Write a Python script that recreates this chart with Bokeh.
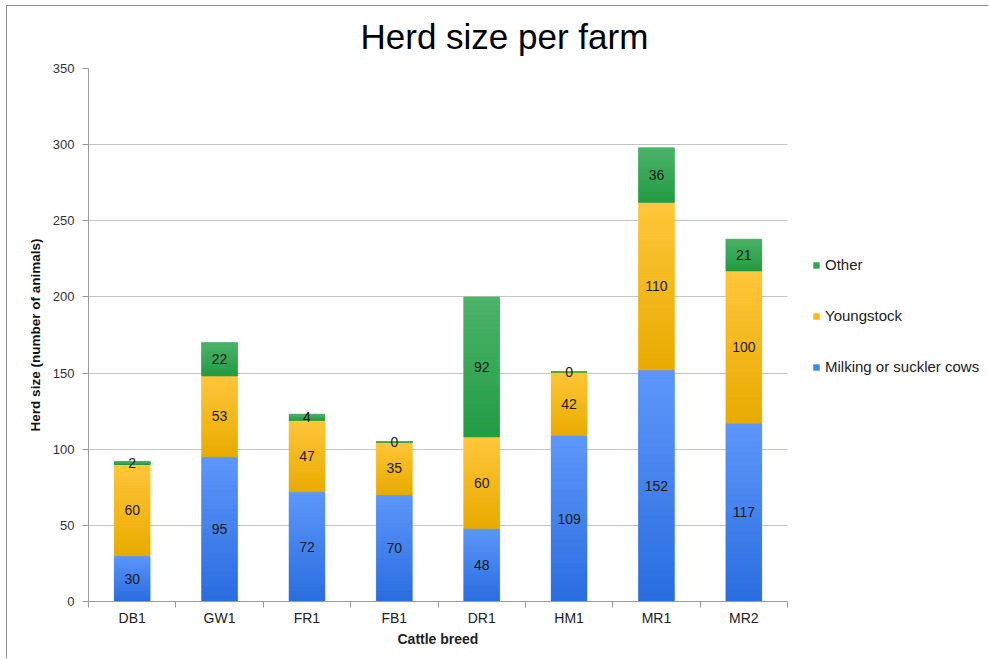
from bokeh.plotting import figure
from bokeh.models import (ColumnDataSource, Range1d, LinearAxis,
                          FixedTicker, Legend, LegendItem, Title)
from bokeh.core.properties import value
from bokeh.embed import file_html
from bokeh.resources import INLINE

farms = ["DB1", "GW1", "FR1", "FB1", "DR1", "HM1", "MR1", "MR2"]
milking = [30, 95, 72, 70, 48, 109, 152, 117]
young = [60, 53, 47, 35, 60, 42, 110, 100]
other = [2, 22, 4, 0, 92, 0, 36, 21]
series_names = ["Milking or suckler cows", "Youngstock", "Other"]
y_ticks = [0, 50, 100, 150, 200, 250, 300, 350]

FONT = "Liberation Sans"
colors = ["#4184f2", "#f8ba10", "#30a653"]
light = ["#5e97fa", "#ffc63c", "#4db36b"]
dark = ["#2a6ddf", "#e8ab00", "#239c45"]

# layout: the frame runs to the right edge; bars occupy the first PLOT_PX of it
W, H = 982, 653
LEFT = 81
PLOT_PX = 699
FRAME_PX = W - LEFT
NCAT = len(farms)
x_end = NCAT * FRAME_PX / PLOT_PX

pos = [i + 0.5 for i in range(NCAT)]
src = ColumnDataSource(dict(x=pos, m=milking, y=young, o=other))

p = figure(width=W, height=H, x_range=Range1d(0, x_end),
           y_range=Range1d(0, 350), x_axis_location=None,
           output_backend="svg", toolbar_location=None,
           min_border_left=LEFT, min_border_right=0, min_border_top=62,
           min_border_bottom=58)
p.styles = {"margin-left": "6px", "margin-top": "5px",
            "border-top": "1px solid #8c8c8c", "border-left": "1px solid #8c8c8c"}

p.title = Title(text="Herd size per farm", text_font=FONT, text_font_size="35px",
                text_font_style="normal", align="left", offset=272,
                vertical_align="top", text_color="#000000", standoff=21)

BW = 0.41
rs = p.vbar_stack(["m", "y", "o"], x="x", width=BW, source=src,
                  fill_color=colors, line_color=None)


# vertical shading of every segment (lighter at its top, darker at its bottom)
def mix(c1, c2, t):
    a = [int(c1[k:k + 2], 16) for k in (1, 3, 5)]
    b = [int(c2[k:k + 2], 16) for k in (1, 3, 5)]
    return "#" + "".join("%02x" % round(a[k] + (b[k] - a[k]) * t) for k in range(3))


N = 30
gx, gb, gt, gc = [], [], [], []
for i in range(NCAT):
    base = 0
    for k, v in enumerate((milking[i], young[i], other[i])):
        for j in range(N):
            gx.append(pos[i])
            gb.append(base + v * j / N)
            gt.append(base + v * (j + 1) / N)
            gc.append(mix(dark[k], light[k], (j + 0.5) / N))
        base += v
p.vbar(x=gx, bottom=gb, top=gt, width=BW, fill_color=gc, line_color=gc, line_width=0.5)

# data labels
lx, ly, lt = [], [], []
for i in range(NCAT):
    b = 0
    for v in (milking[i], young[i], other[i]):
        lx.append(pos[i])
        ly.append(b + v / 2)
        lt.append(str(v))
        b += v
p.text(x=lx, y=ly, text=lt, text_align="center", text_baseline="middle",
       text_font=value(FONT), text_font_size="14px", text_color="#1b1b1b")

# axes
p.yaxis.ticker = FixedTicker(ticks=y_ticks)
p.yaxis.axis_line_color = "#9a9a9a"
p.yaxis.major_tick_line_color = "#9a9a9a"
p.yaxis.major_tick_out = 6
p.yaxis.major_tick_in = 0
p.yaxis.minor_tick_line_color = None
p.yaxis.major_label_text_font = FONT
p.yaxis.major_label_text_font_size = "13px"
p.yaxis.major_label_text_color = "#333333"
p.yaxis.major_label_standoff = 8
p.yaxis.axis_label = "Herd size (number of animals)"
p.yaxis.axis_label_text_font = FONT
p.yaxis.axis_label_text_font_size = "13.5px"
p.yaxis.axis_label_text_font_style = "bold"
p.yaxis.axis_label_text_color = "#111111"
p.yaxis.axis_label_standoff = 7

xaxis = LinearAxis(ticker=FixedTicker(ticks=pos, minor_ticks=list(range(NCAT + 1))),
                   bounds=(0, NCAT),
                   major_label_overrides={pos[i]: farms[i] for i in range(NCAT)},
                   axis_line_color="#9a9a9a", major_tick_line_color=None,
                   major_tick_out=0, major_tick_in=0,
                   minor_tick_line_color="#9a9a9a", minor_tick_out=6, minor_tick_in=0,
                   major_label_text_font=FONT, major_label_text_font_size="14px",
                   major_label_text_color="#222222", major_label_standoff=2)
p.add_layout(xaxis, "below")
p.add_layout(Title(text="Cattle breed", text_font=FONT, text_font_size="14px",
                   text_font_style="bold", text_color="#222222", align="left",
                   offset=309, standoff=1), "below")

p.xgrid.grid_line_color = None
p.ygrid.grid_line_color = "#c4c4c4"
p.ygrid.ticker = FixedTicker(ticks=y_ticks)
p.ygrid.cross_bounds = (0, NCAT)
p.outline_line_color = None

legend = Legend(items=[LegendItem(label=series_names[2], renderers=[rs[2]]),
                       LegendItem(label=series_names[1], renderers=[rs[1]]),
                       LegendItem(label=series_names[0], renderers=[rs[0]])],
                location=(724, 226), glyph_width=8, glyph_height=8, label_height=16,
                spacing=34, padding=0, margin=0, label_standoff=5,
                label_text_font=FONT, label_text_font_size="15px",
                label_text_color="#222222", border_line_color=None,
                background_fill_alpha=0)
p.add_layout(legend)

open("out.html", "w").write(file_html(p, INLINE))
